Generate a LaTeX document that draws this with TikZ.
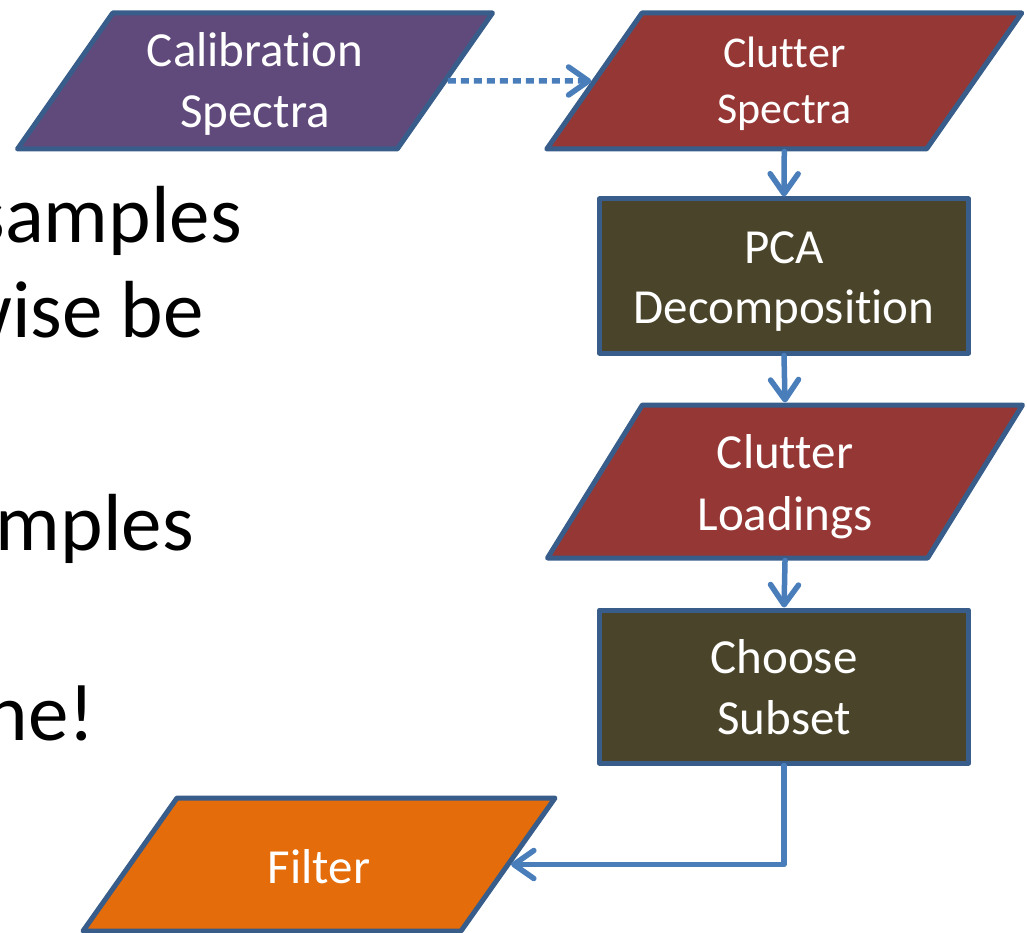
\documentclass[tikz,border=0pt]{standalone}
\usepackage{fontspec}
\setmainfont{Carlito}[Ligatures=NoCommon]
\usetikzlibrary{shapes.geometric,arrows.meta}

\definecolor{edgeblue}{HTML}{385D8A}
\definecolor{arrowblue}{HTML}{4A7EBB}
\definecolor{calpurple}{HTML}{604A7B}
\definecolor{clutterred}{HTML}{953735}
\definecolor{procolive}{HTML}{4A452A}
\definecolor{filterorange}{HTML}{E46C0A}

% two lines with a fixed room above the first and below the last
\newcommand{\boxlines}[4]{\rule{0pt}{#1pt}#3\\#4\rule[-#2pt]{0pt}{#2pt}}

\tikzset{
    databox/.style={trapezium, trapezium left angle=55, trapezium right angle=125,
        trapezium stretches body, draw=edgeblue, line width=5pt, line join=round,
        text=white, align=center, inner sep=0pt, minimum width=475,
        font=\fontsize{49}{61}\selectfont},
    procbox/.style={rectangle, draw=edgeblue, fill=procolive, line width=5pt, line join=round,
        text=white, align=center, inner sep=0pt, minimum width=369,
        font=\fontsize{49}{60}\selectfont},
    flow/.style={draw=arrowblue, line width=5.5pt, line cap=round, line join=round,
        -{Straight Barb[length=20pt,width=28pt,round]}},
    slidetext/.style={anchor=base east, inner sep=0pt, font=\fontsize{81}{94}\selectfont}
}

\begin{document}
\begin{tikzpicture}[x=1pt, y=-1pt]
    \useasboundingbox (0,0) rectangle (1027,933);

    % slide text behind the flow chart
    \node[slidetext] (line1) at (242,243) {samples};
    \node[slidetext] (line2) at (204,337) {wise be};
    \node[slidetext] (line3) at (194,550) {mples};
    \node[slidetext] (line4) at (95,740) {ne!};

    % flow chart
    \node[databox, fill=calpurple] (cal) at (255,81) {\boxlines{54}{21}{Calibration}{Spectra}};
    \node[databox, fill=clutterred, font=\fontsize{44}{56}\selectfont] (spec) at (784.25,81)
        {\boxlines{55}{25}{Clutter}{Spectra}};
    \node[procbox] (pca) at (784,276) {\boxlines{64}{30}{PCA}{Decomposition}};
    \node[databox, fill=clutterred, trapezium left angle=58.2, trapezium right angle=121.8,
        font=\fontsize{49}{62}\selectfont] (load) at (785,481.5) {\boxlines{63}{28}{Clutter}{Loadings}};
    \node[procbox, font=\fontsize{49}{61}\selectfont] (choose) at (784,686.5) {\boxlines{63}{29}{Choose}{Subset}};
    \node[databox, fill=filterorange, minimum width=472, text height=85, text depth=48,
        trapezium left angle=54.75, trapezium right angle=125.25] (filter) at (319,864.5) {Filter};

    \draw[flow, dash pattern=on 8pt off 5pt, line cap=butt] (cal.east) -- (spec.west);
    \draw[flow] (spec.south) -- (pca.north);
    \draw[flow] (pca.south) -- (load.north);
    \draw[flow] (load.south) -- (choose.north);
    \draw[flow] (choose.south) |- (filter.east);
\end{tikzpicture}
\end{document}
